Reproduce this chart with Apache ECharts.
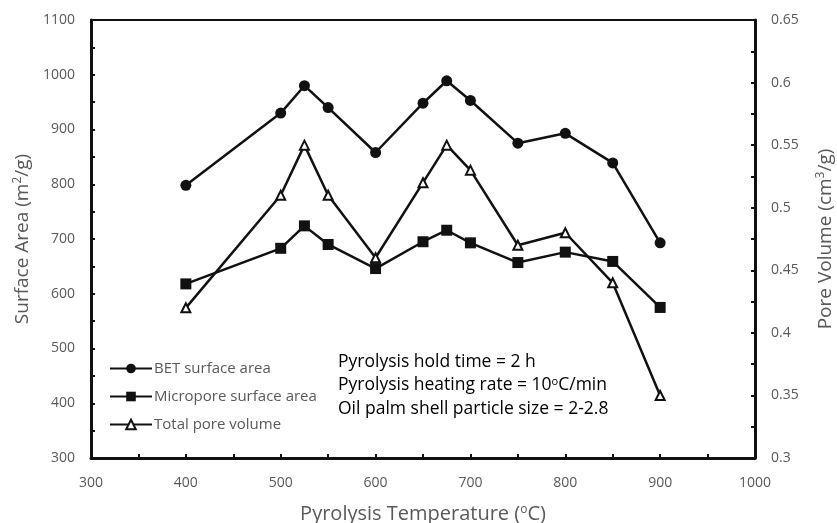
<!DOCTYPE html>
<html>
<head>
<meta charset="utf-8">
<script src="https://cdn.jsdelivr.net/npm/echarts@6/dist/echarts.min.js"></script>
<style>
  html, body { margin: 0; padding: 0; background: #fff; }
  #chart { width: 837px; height: 523px; }
</style>
</head>
<body>
<div id="chart"></div>
<script>
// pyrolysis temperature (C)
var temperatures = [400, 500, 525, 550, 600, 650, 675, 700, 750, 800, 850, 900]
// m2/g
var betArea = [798, 930, 980, 940, 858, 948, 989, 953, 875, 893, 839, 693]
var microArea = [618, 683, 724, 690, 646, 695, 716, 693, 657, 676, 659, 575]
// cm3/g
var poreVolume = [0.42, 0.51, 0.55, 0.51, 0.46, 0.52, 0.55, 0.53, 0.47, 0.48, 0.44, 0.35]

var notes = [
  'Pyrolysis hold time = 2 h',
  'Pyrolysis heating rate = 10{sup|o}C/min',
  'Oil palm shell particle size = 2-2.8'
]

function pairs(xs, ys) {
  return xs.map(function (x, i) { return [x, ys[i]] })
}

var FONT = 'Open Sans'
var GRAY = '#595959'
var INK = '#111'

var axisLine = { show: true, lineStyle: { color: INK, width: 3 } }
var tickIn = { show: true, inside: true, length: 4, lineStyle: { color: INK, width: 2 } }
var labelStyle = { color: GRAY, fontFamily: FONT, fontSize: 14 }
var supRich = { sup: { color: GRAY, fontFamily: FONT, fontSize: 12, verticalAlign: 'top', padding: [0, 0, 9, 0] } }

// ticks every half step, labels only on the whole step
function everyOther(step, dec) {
  return function (v) {
    var r = Math.round(v / step)
    if (Math.abs(v / step - r) > 1e-6) return ''
    return dec ? String(Math.round(v * 100) / 100) : String(v)
  }
}

var chart = echarts.init(document.getElementById('chart'))

chart.setOption({
  animation: false,
  textStyle: { fontFamily: FONT },
  grid: { left: 91, right: 82, top: 20, bottom: 65, containLabel: false, outerBoundsMode: 'none' },
  legend: {
    orient: 'vertical',
    left: 104,
    top: 356,
    itemWidth: 42,
    itemHeight: 12,
    itemGap: 13,
    textStyle: { color: GRAY, fontFamily: FONT, fontSize: 15, padding: [0, 0, 0, -3] },
    data: ['BET surface area', 'Micropore surface area', 'Total pore volume']
  },
  xAxis: [
    {
      type: 'value',
      min: 300,
      max: 1000,
      interval: 50,
      axisLine: axisLine,
      axisTick: tickIn,
      splitLine: { show: false },
      axisLabel: Object.assign({ margin: 18, formatter: everyOther(100) }, labelStyle),
      name: 'Pyrolysis Temperature ({sup|o}C)',
      nameLocation: 'middle',
      nameGap: 46,
      nameTextStyle: { color: GRAY, fontFamily: FONT, fontSize: 20, rich: supRich }
    },
    {
      type: 'value',
      position: 'top',
      min: 300,
      max: 1000,
      axisLine: { show: true, lineStyle: { color: INK, width: 2 } },
      axisTick: { show: false },
      axisLabel: { show: false },
      splitLine: { show: false }
    }
  ],
  yAxis: [
    {
      type: 'value',
      min: 300,
      max: 1100,
      interval: 50,
      axisLine: axisLine,
      axisTick: tickIn,
      splitLine: { show: false },
      axisLabel: Object.assign({ margin: 16, formatter: everyOther(100) }, labelStyle),
      name: 'Surface Area (m{sup|2}/g)',
      nameLocation: 'middle',
      nameGap: 58,
      nameTextStyle: { color: GRAY, fontFamily: FONT, fontSize: 19, rich: supRich }
    },
    {
      type: 'value',
      position: 'right',
      min: 0.3,
      max: 0.65,
      interval: 0.025,
      axisLine: axisLine,
      axisTick: tickIn,
      splitLine: { show: false },
      axisLabel: Object.assign({ margin: 16, formatter: everyOther(0.05, true) }, labelStyle),
      name: 'Pore Volume (cm{sup|3}/g)',
      nameLocation: 'middle',
      nameGap: 60,
      nameRotate: 90,
      nameTextStyle: { color: GRAY, fontFamily: FONT, fontSize: 19, rich: supRich }
    }
  ],
  graphic: notes.map(function (t, i) {
    return {
      type: 'text',
      left: 338,
      top: 353 + i * 23.5,
      style: {
        text: t,
        fill: '#000',
        font: '17.5px "Open Sans"',
        rich: { sup: { fill: '#000', fontFamily: FONT, fontSize: 11, verticalAlign: 'top', padding: [0, 0, 7, 0] } }
      }
    }
  }),
  series: [
    {
      name: 'BET surface area',
      type: 'line',
      data: pairs(temperatures, betArea),
      symbol: 'circle',
      symbolSize: 11,
      lineStyle: { color: INK, width: 2.5 },
      itemStyle: { color: INK }
    },
    {
      name: 'Micropore surface area',
      type: 'line',
      data: pairs(temperatures, microArea),
      symbol: 'rect',
      symbolSize: 11,
      lineStyle: { color: INK, width: 2.5 },
      itemStyle: { color: INK }
    },
    {
      name: 'Total pore volume',
      type: 'line',
      yAxisIndex: 1,
      data: pairs(temperatures, poreVolume),
      symbol: 'triangle',
      symbolSize: 9,
      lineStyle: { color: INK, width: 2.5 },
      itemStyle: { color: '#fff', borderColor: INK, borderWidth: 2 }
    }
  ]
})
</script>
</body>
</html>
